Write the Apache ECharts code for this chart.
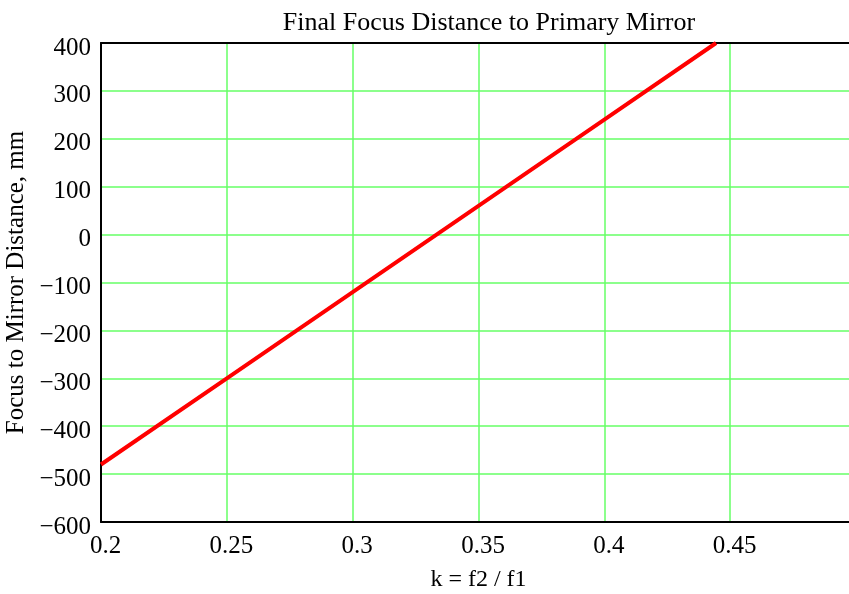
<!DOCTYPE html>
<html>
<head>
<meta charset="utf-8">
<script src="https://cdn.jsdelivr.net/npm/echarts@6/dist/echarts.min.js"></script>
<style>html,body{margin:0;padding:0;background:#fff;}#c{width:849px;height:594px;}</style>
</head>
<body>
<div id="c"></div>
<script>
const kValues = [0.2, 0.25, 0.3, 0.35, 0.4, 0.4444];
const distanceValues = [-480, -300, -120, 60, 240, 400];
const titleText = 'Final Focus Distance to Primary Mirror';
const xName = 'k = f2 / f1';
const yName = 'Focus to Mirror Distance, mm';

const font = 'Liberation Serif';
const chart = echarts.init(document.getElementById('c'), null, {renderer: 'canvas'});
chart.setOption({
  animation: false,
  backgroundColor: '#fff',
  title: {
    text: titleText, left: 484, top: 5, textAlign: 'center',
    textStyle: {fontFamily: font, fontSize: 26, fontWeight: 'normal', color: '#000'}
  },
  grid: {left: 101, top: 43, bottom: 72, right: -7, show: false, outerBoundsMode: 'none', containLabel: false},
  xAxis: [{
    type: 'value', min: 0.2, max: 0.5, interval: 0.05, position: 'bottom',
    name: xName, nameLocation: 'middle', nameGap: 46,
    nameTextStyle: {fontFamily: font, fontSize: 24, color: '#000'},
    axisLine: {show: true, onZero: false, lineStyle: {color: '#000', width: 2}},
    axisTick: {show: false},
    axisLabel: {fontFamily: font, fontSize: 25, color: '#000', margin: 12, padding: [0,0,0,9],
      formatter: v => (Math.abs(v - 0.5) < 1e-9 ? '' : String(+v.toFixed(2)))},
    splitLine: {show: true, showMinLine: false, showMaxLine: false, lineStyle: {color: '#66ff66', width: 1.5}}
  }, {
    type: 'value', min: 0.2, max: 0.5, interval: 0.05, position: 'top',
    axisLine: {show: true, onZero: false, lineStyle: {color: '#000', width: 2}},
    axisTick: {show: false}, axisLabel: {show: false}, splitLine: {show: false}
  }],
  yAxis: {
    type: 'value', min: -600, max: 400, interval: 100,
    name: yName, nameLocation: 'middle', nameGap: 65, nameRotate: 90,
    nameTextStyle: {fontFamily: font, fontSize: 25, color: '#000'},
    axisLine: {show: true, onZero: false, lineStyle: {color: '#000', width: 2}},
    axisTick: {show: false},
    axisLabel: {fontFamily: font, fontSize: 25, color: '#000', margin: 10, verticalAlign: 'top', lineHeight: 10,
      formatter: v => String(v).replace('-', '\u2212')},
    splitLine: {show: true, showMinLine: false, showMaxLine: false, lineStyle: {color: '#66ff66', width: 1.5}}
  },
  series: [{
    type: 'line', data: kValues.map((k, i) => [k, distanceValues[i]]),
    showSymbol: false, clip: true,
    lineStyle: {color: '#ff0000', width: 4}
  }]
});
</script>
</body>
</html>
